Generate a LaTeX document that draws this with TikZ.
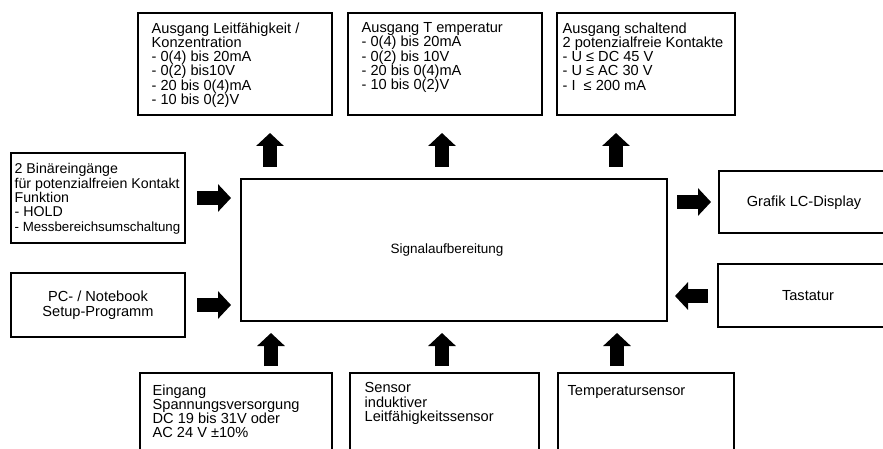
\documentclass[tikz,border=0pt]{standalone}
\usepackage{fontspec}
\setmainfont{Liberation Sans}
\usetikzlibrary{arrows.meta}

\tikzset{
  box/.style={draw, line width=1.1pt, rectangle, inner sep=0pt},
  txt/.style={inner sep=0pt, align=left, anchor=north west, font=\fontsize{14.6}{14.2}\selectfont},
  ctxt/.style={inner sep=0pt, align=center, font=\fontsize{14.6}{14.6}\selectfont},
  blk/.style={line width=14pt, line cap=butt, -{Triangle[length=13pt, width=27pt]}}
}

\begin{document}
\begin{tikzpicture}[x=1pt, y=-1pt, line join=miter]
\useasboundingbox (0,0) rectangle (883,449);
% boxes
\node[box, minimum width=194pt, minimum height=102pt] (ausLF) at (235,64) {};
\node[box, minimum width=194pt, minimum height=102pt] (ausT) at (445,64) {};
\node[box, minimum width=178pt, minimum height=102pt] (ausS) at (646,64) {};
\node[box, minimum width=174pt, minimum height=90pt] (bin) at (98,198) {};
\node[box, minimum width=174pt, minimum height=64pt] (pc) at (98,305) {};
\node[box, minimum width=426pt, minimum height=142pt] (sig) at (454,250) {};
\node[box, minimum width=170pt, minimum height=62pt] (lcd) at (804,202) {};
\node[box, minimum width=170pt, minimum height=63pt] (tast) at (803,295.5) {};
\node[box, minimum width=192pt, minimum height=90pt] (ein) at (236,418) {};
\node[box, minimum width=189pt, minimum height=90pt] (sens) at (444.5,418) {};
\node[box, minimum width=176pt, minimum height=90pt] (temp) at (646,418) {};
% texts
\node[txt] (tLF) at ([shift={(14pt,-10pt)}]ausLF.north west) {Ausgang Leitfähigkeit /\\Konzentration\\- 0(4) bis 20mA\\- 0(2) bis10V\\- 20 bis 0(4)mA\\- 10 bis 0(2)V};
\node[txt] (tT) at ([shift={(14pt,-10pt)}]ausT.north west) {Ausgang T emperatur\\- 0(4) bis 20mA\\- 0(2) bis 10V\\- 20 bis 0(4)mA\\- 10 bis 0(2)V};
\node[txt] (tS) at ([shift={(6pt,-10pt)}]ausS.north west) {Ausgang schaltend\\2 potenzialfreie Kontakte\\- U ≤ DC 45 V\\- U ≤ AC 30 V\\- I \ ≤ 200 mA};
\node[txt, font=\fontsize{14.2}{14.3}\selectfont] (tbin) at ([shift={(4pt,-11pt)}]bin.north west) {2 Binäreingänge\\für potenzialfreien Kontakt\\Funktion\\- HOLD\\{\fontsize{13.3}{14.3}\selectfont - Messbereichsumschaltung}};
\node[ctxt] (tpc) at (pc.center) {PC- / Notebook\\Setup-Programm};
\node[ctxt, font=\fontsize{13.5}{14}\selectfont] (tsig) at (447,250) {Signalaufbereitung};
\node[ctxt] (tlcd) at (804,203) {Grafik LC-Display};
\node[ctxt] (ttast) at (808,296) {Tastatur};
\node[txt] (tein) at ([shift={(13pt,-12pt)}]ein.north west) {Eingang\\Spannungsversorgung\\DC 19 bis 31V oder\\AC 24 V ±10\%};
\node[txt] (tsens) at ([shift={(15pt,-10pt)}]sens.north west) {Sensor\\induktiver\\Leitfähigkeitssensor};
\node[txt] (ttemp) at ([shift={(10pt,-13pt)}]temp.north west) {Temperatursensor};
% arrow ends
\coordinate (u1a) at (270,167); \coordinate (u1b) at (270,133);
\coordinate (u2a) at (442,167); \coordinate (u2b) at (442,133);
\coordinate (u3a) at (616,167); \coordinate (u3b) at (616,133);
\coordinate (d1a) at (271,366); \coordinate (d1b) at (271,333);
\coordinate (d2a) at (442,366); \coordinate (d2b) at (442,333);
\coordinate (d3a) at (617,366); \coordinate (d3b) at (617,333);
\coordinate (l1a) at (197,198); \coordinate (l1b) at (231,198);
\coordinate (l2a) at (197,305); \coordinate (l2b) at (231,305);
\coordinate (r1a) at (677,202); \coordinate (r1b) at (711,202);
\coordinate (r2a) at (708,296); \coordinate (r2b) at (675,296);
% arrows
\draw[blk] (u1a) -- (u1b);
\draw[blk] (u2a) -- (u2b);
\draw[blk] (u3a) -- (u3b);
\draw[blk] (d1a) -- (d1b);
\draw[blk] (d2a) -- (d2b);
\draw[blk] (d3a) -- (d3b);
\draw[blk] (l1a) -- (l1b);
\draw[blk] (l2a) -- (l2b);
\draw[blk] (r1a) -- (r1b);
\draw[blk] (r2a) -- (r2b);
\end{tikzpicture}
\end{document}
